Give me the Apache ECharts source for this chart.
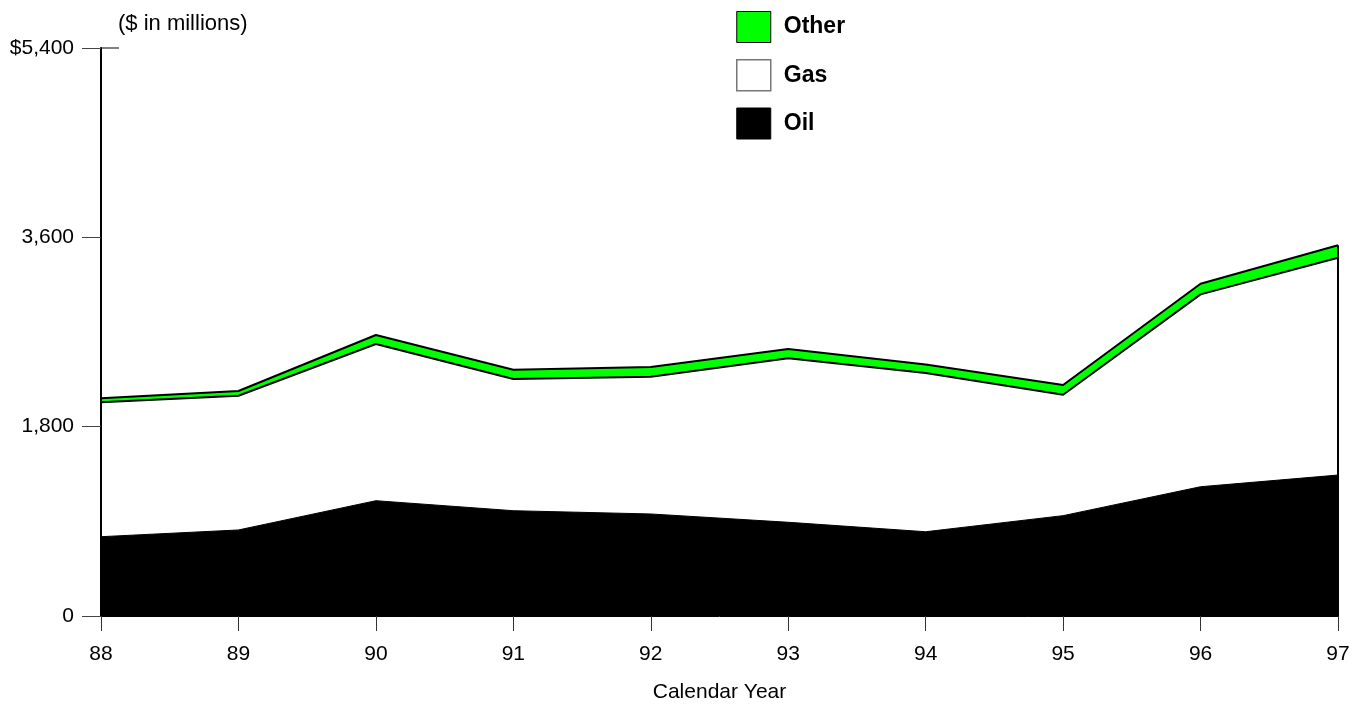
<!DOCTYPE html>
<html>
<head>
<meta charset="utf-8">
<title>Revenue by Product</title>
<script src="https://cdn.jsdelivr.net/npm/echarts@6/dist/echarts.min.js"></script>
<style>
  html, body { margin: 0; padding: 0; background: #ffffff; }
  #chart { width: 1363px; height: 707px; }
</style>
</head>
<body>
<div id="chart"></div>
<script>
// Calendar years (19xx) and revenue by product, $ in millions
const years = ['88', '89', '90', '91', '92', '93', '94', '95', '96', '97'];
const oil   = [754, 818, 1096, 1001, 970, 891, 801, 954, 1229, 1340];
const gas   = [1278, 1276, 1490, 1252, 1305, 1559, 1509, 1150, 1829, 2066];
const other = [38, 45, 85, 89, 92, 88, 81, 92, 101, 118];
const yTicks = [0, 1800, 3600, 5400];
const yTickLabels = ['0', '1,800', '3,600', '$5,400'];

const FONT = '"Liberation Sans", Arial, Helvetica, sans-serif';
const lastIdx = years.length - 1;
const lastTotal = oil[lastIdx] + gas[lastIdx] + other[lastIdx];

const chart = echarts.init(document.getElementById('chart'), null, { renderer: 'canvas' });

const option = {
  backgroundColor: '#ffffff',
  animation: false,
  textStyle: { fontFamily: FONT },
  title: {
    text: '($ in millions)',
    left: 118,
    top: 13,
    padding: 0,
    textStyle: { fontFamily: FONT, fontSize: 22, fontWeight: 'normal', color: '#000' }
  },
  legend: {
    orient: 'vertical',
    left: 736,
    top: 11,
    padding: 0,
    itemWidth: 34,
    itemHeight: 31,
    itemGap: 16,
    selectedMode: false,
    textStyle: { fontFamily: FONT, fontSize: 23, fontWeight: 'bold', color: '#000', padding: [5, 0, 0, 8] },
    data: [
      { name: 'Other', icon: 'rect', itemStyle: { color: '#00ff00', borderColor: '#000', borderWidth: 1 } },
      { name: 'Gas', icon: 'rect', itemStyle: { color: '#ffffff', borderColor: '#777', borderWidth: 1.5 } },
      { name: 'Oil', icon: 'rect', itemStyle: { color: '#000000', borderColor: '#000', borderWidth: 1 } }
    ]
  },
  grid: { left: 101, right: 25, top: 48, bottom: 91, outerBoundsMode: 'none' },
  xAxis: {
    type: 'category',
    data: years,
    boundaryGap: false,
    z: 10,
    name: 'Calendar Year',
    nameLocation: 'middle',
    nameGap: 66,
    nameTextStyle: { fontFamily: FONT, fontSize: 21, color: '#000' },
    axisLine: { lineStyle: { color: '#000', width: 1 } },
    axisTick: { show: true, length: 15, alignWithLabel: true, lineStyle: { color: '#333', width: 1 } },
    axisLabel: { fontFamily: FONT, fontSize: 21, color: '#000', margin: 28 },
    splitLine: { show: false }
  },
  yAxis: {
    type: 'value',
    min: 0,
    max: 5400,
    interval: 1800,
    z: 10,
    axisLine: { show: true, lineStyle: { color: '#000', width: 2 } },
    axisTick: { show: true, length: 19, lineStyle: { color: '#444', width: 1 } },
    axisLabel: {
      fontFamily: FONT, fontSize: 21, color: '#000', margin: 27,
      formatter: function (v) {
        const i = yTicks.indexOf(v);
        return i >= 0 ? yTickLabels[i] : '';
      }
    },
    splitLine: { show: false }
  },
  series: [
    {
      name: 'Oil',
      type: 'line',
      stack: 'total',
      data: oil,
      z: 4,
      symbol: 'none',
      itemStyle: { color: '#000000' },
      lineStyle: { color: '#000', width: 1 },
      areaStyle: { color: '#000000', opacity: 1 }
    },
    {
      name: 'Gas',
      type: 'line',
      stack: 'total',
      data: gas,
      z: 3,
      symbol: 'none',
      itemStyle: { color: '#ffffff' },
      lineStyle: { color: '#000', width: 2 },
      areaStyle: { color: '#ffffff', opacity: 1 }
    },
    {
      name: 'Other',
      type: 'line',
      stack: 'total',
      data: other,
      z: 2,
      symbol: 'none',
      itemStyle: { color: '#00ff00' },
      lineStyle: { color: '#000', width: 2 },
      areaStyle: { color: '#00ff00', opacity: 1 }
    },
    {
      // closing edge of the stacked areas at the last year
      name: 'edge',
      type: 'line',
      data: [[years[lastIdx], 0], [years[lastIdx], lastTotal]],
      z: 5,
      symbol: 'none',
      silent: true,
      lineStyle: { color: '#000', width: 2 }
    }
  ]
};

chart.setOption(option);

// top tick of the value axis crosses the axis line
const topY = chart.convertToPixel({ yAxisIndex: 0 }, yTicks[yTicks.length - 1]);
const axisX = chart.convertToPixel({ xAxisIndex: 0 }, years[0]);
chart.setOption({
  graphic: [{
    type: 'line',
    silent: true,
    shape: { x1: axisX, y1: topY, x2: axisX + 18, y2: topY },
    style: { stroke: '#000', lineWidth: 1 }
  }]
});
</script>
</body>
</html>
